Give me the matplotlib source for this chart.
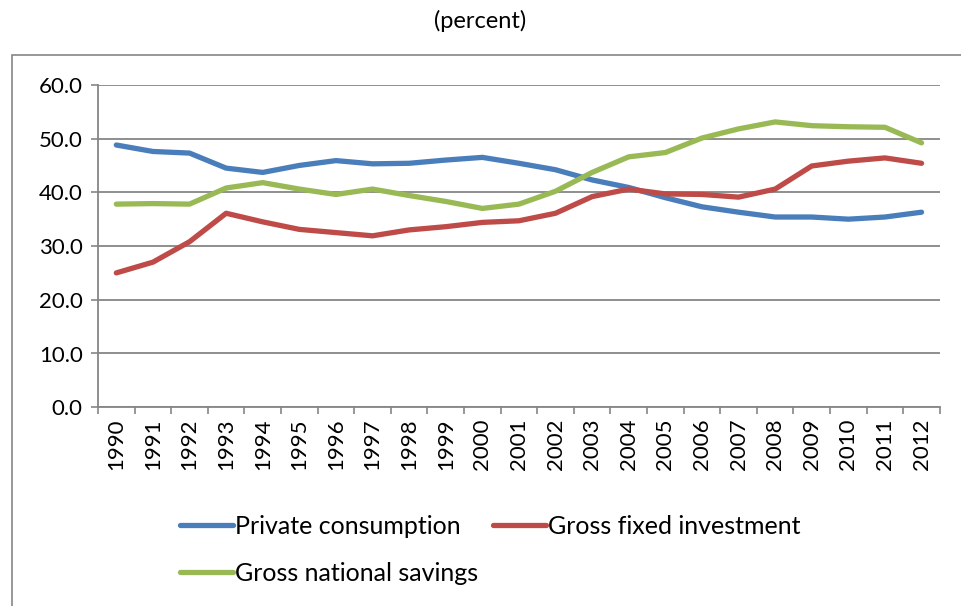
import matplotlib
matplotlib.use("Agg")
import matplotlib.pyplot as plt
from matplotlib.patches import Rectangle

years = [str(y) for y in range(1990, 2013)]
private_consumption = [48.8, 47.6, 47.3, 44.5, 43.7, 45.0, 45.9, 45.3, 45.4, 46.0, 46.5,
                       45.4, 44.2, 42.3, 40.9, 39.0, 37.3, 36.3, 35.4, 35.4, 35.0, 35.4, 36.3]
gross_fixed_investment = [25.0, 27.0, 30.8, 36.1, 34.5, 33.1, 32.5, 31.9, 33.0, 33.6, 34.4,
                          34.7, 36.1, 39.2, 40.6, 39.7, 39.6, 39.1, 40.6, 44.9, 45.8, 46.4, 45.4]
gross_national_savings = [37.8, 37.9, 37.8, 40.8, 41.8, 40.6, 39.6, 40.6, 39.4, 38.3, 37.0,
                          37.8, 40.2, 43.7, 46.6, 47.4, 50.1, 51.8, 53.1, 52.4, 52.2, 52.1, 49.2]

plt.rcParams["font.family"] = ["Lato", "DejaVu Sans"]

fig = plt.figure(figsize=(9.61, 6.06), dpi=100)
ax = fig.add_axes([0.102, 0.328, 0.876, 0.532])

# outer chart border
fig.patches.append(Rectangle((12 / 961, -0.05), 1.0, 1 - 55 / 606 + 0.05,
                             transform=fig.transFigure, fill=False,
                             edgecolor="#868686", linewidth=1.2))

x = list(range(len(years)))
l1, = ax.plot(x, private_consumption, color="#4A7EBB", linewidth=3.8,
              solid_capstyle="round", label="Private consumption", zorder=3)
l2, = ax.plot(x, gross_fixed_investment, color="#BE4B48", linewidth=3.8,
              solid_capstyle="round", label="Gross fixed investment", zorder=3)
l3, = ax.plot(x, gross_national_savings, color="#98B954", linewidth=3.8,
              solid_capstyle="round", label="Gross national savings", zorder=3)

ax.set_xlim(-0.5, len(years) - 0.5)
ax.set_ylim(0, 60)
ax.set_yticks(range(0, 61, 10))
ax.set_yticklabels([f"{v:.1f}" for v in range(0, 61, 10)], fontsize=16)
ax.yaxis.grid(True, color="#868686", linewidth=1.3)
ax.set_axisbelow(True)

ax.set_xticks(x)
ax.set_xticklabels(years, rotation=90, fontsize=16)
ax.set_xticks([i - 0.5 for i in range(len(years) + 1)], minor=True)
ax.tick_params(axis="x", which="major", length=0, pad=8)
ax.tick_params(axis="x", which="minor", length=5, color="#868686", width=1.2)
ax.tick_params(axis="y", length=5, color="#868686", width=1.2, pad=6)

for side in ["top", "right"]:
    ax.spines[side].set_visible(False)
for side in ["left", "bottom"]:
    ax.spines[side].set_color("#868686")
    ax.spines[side].set_linewidth(1.3)

fig.text(0.5, 0.965, "(percent)", ha="center", va="center", fontsize=17)

# column-major fill: first column gets items 0,1, second gets item 2
fig.legend(handles=[l1, l3, l2], loc="upper left", bbox_to_anchor=(0.177, 0.167),
           ncol=2, frameon=False, fontsize=18, handlelength=2.1, handletextpad=0.1,
           columnspacing=0.6, labelspacing=0.95, borderaxespad=0)

fig.savefig("out.png", dpi=100)
